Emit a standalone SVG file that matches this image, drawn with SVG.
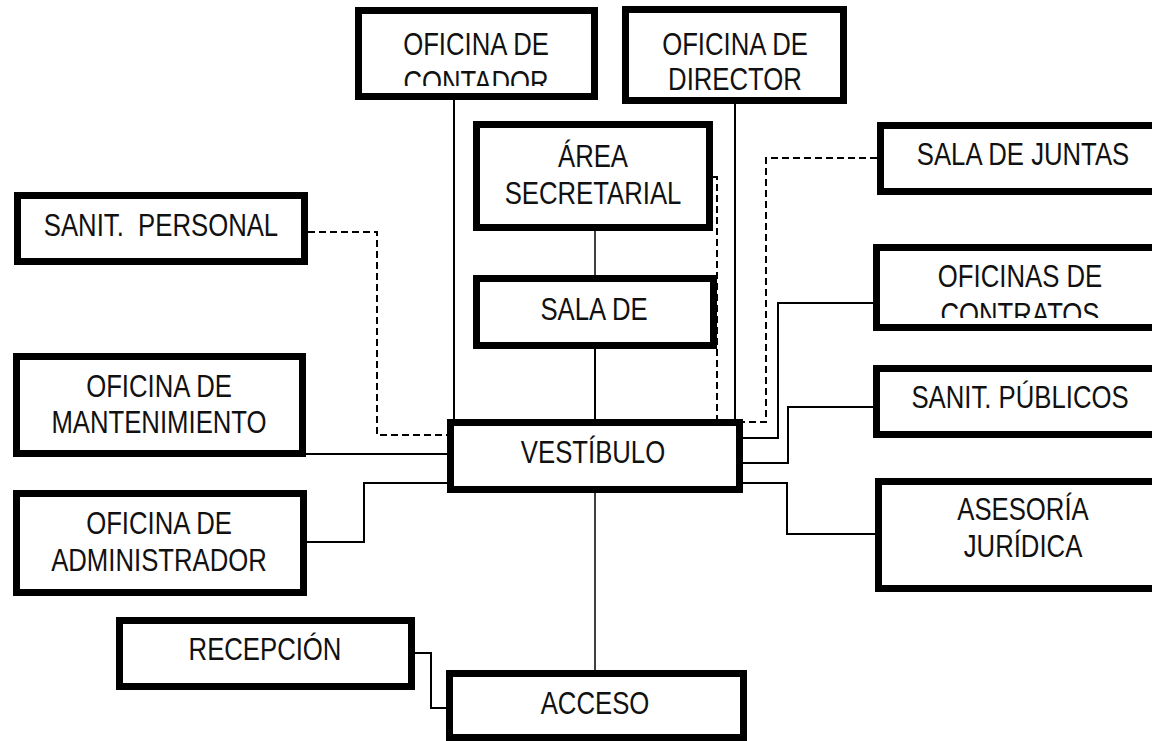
<svg xmlns="http://www.w3.org/2000/svg" width="1152" height="741" viewBox="0 0 1152 741">
<style>
.box{fill:#fff;stroke:#000;stroke-width:7}
.lbl{font-family:"Liberation Sans Narrow","Liberation Sans",Arial,sans-serif;font-size:31px;fill:#111;text-anchor:middle}
.ln{fill:none;stroke:#000;stroke-width:2}
.ds{fill:none;stroke:#000;stroke-width:2;stroke-dasharray:7 4}
</style>
<defs>
<clipPath id="clipCont"><rect x="355" y="0" width="245" height="86"/></clipPath>
<clipPath id="clipContr"><rect x="873" y="240" width="300" height="78"/></clipPath>
</defs>
<rect width="1152" height="741" fill="#fff"/>
<g id="connectors">
<line class="ln" x1="454" y1="100" x2="454" y2="419"/>
<line class="ln" x1="735" y1="104" x2="735" y2="419"/>
<line class="ln" x1="595" y1="231" x2="595" y2="275" style="stroke-width:1.5"/>
<line class="ln" x1="595" y1="349" x2="595" y2="419"/>
<line class="ln" x1="595" y1="493" x2="595" y2="670" style="stroke-width:1.5"/>
<polyline class="ds" points="713,177 717,177 717,419"/>
<polyline class="ds" points="877,158 766,158 766,422 743,422"/>
<polyline class="ds" points="308,232 377,232 377,435 447,435"/>
<polyline class="ln" points="306,454 447,454"/>
<polyline class="ln" points="307,542 364,542 364,483 447,483"/>
<polyline class="ln" points="415,653 431,653 431,708 446,708"/>
<polyline class="ln" points="873,303 778,303 778,438 743,438"/>
<polyline class="ln" points="873,407 788,407 788,463 743,463"/>
<polyline class="ln" points="743,483 787,483 787,534 875,534"/>
</g>
<g id="n-contador">
<rect class="box" x="358.5" y="10.5" width="236" height="86"/>
<text class="lbl" transform="matrix(0.83 0 0 1 476 0)" x="0" y="55">OFICINA DE</text>
<g clip-path="url(#clipCont)"><text class="lbl" transform="matrix(0.83 0 0 1 476 0)" x="0" y="93">CONTADOR</text></g>
</g>
<g id="n-director">
<rect class="box" x="625.5" y="9.5" width="218" height="91"/>
<text class="lbl" transform="matrix(0.83 0 0 1 735 0)" x="0" y="55">OFICINA DE</text>
<text class="lbl" transform="matrix(0.83 0 0 1 735 0)" x="0" y="90">DIRECTOR</text>
</g>
<g id="n-secretarial">
<rect class="box" x="476.5" y="124.5" width="233" height="103"/>
<text class="lbl" transform="matrix(0.83 0 0 1 593 0)" x="0" y="167">ÁREA</text>
<text class="lbl" transform="matrix(0.83 0 0 1 593 0)" x="0" y="204">SECRETARIAL</text>
</g>
<g id="n-sala">
<rect class="box" x="476.5" y="278.5" width="237" height="67"/>
<text class="lbl" transform="matrix(0.83 0 0 1 594 0)" x="0" y="320">SALA DE</text>
</g>
<g id="n-vestibulo">
<rect class="box" x="450.5" y="422.5" width="289" height="67"/>
<text class="lbl" transform="matrix(0.83 0 0 1 593 0)" x="0" y="463">VESTÍBULO</text>
</g>
<g id="n-acceso">
<rect class="box" x="449.5" y="673.5" width="294" height="64"/>
<text class="lbl" transform="matrix(0.83 0 0 1 595 0)" x="0" y="714">ACCESO</text>
</g>
<g id="n-juntas">
<rect class="box" x="880.5" y="125.5" width="290" height="66"/>
<text class="lbl" transform="matrix(0.83 0 0 1 1023 0)" x="0" y="165">SALA DE JUNTAS</text>
</g>
<g id="n-contratos">
<rect class="box" x="876.5" y="247.5" width="290" height="80"/>
<text class="lbl" transform="matrix(0.83 0 0 1 1020 0)" x="0" y="287">OFICINAS DE</text>
<g clip-path="url(#clipContr)"><text class="lbl" transform="matrix(0.83 0 0 1 1020 0)" x="0" y="325">CONTRATOS</text></g>
</g>
<g id="n-publicos">
<rect class="box" x="876.5" y="368.5" width="290" height="66"/>
<text class="lbl" transform="matrix(0.83 0 0 1 1020 0)" x="0" y="408">SANIT. PÚBLICOS</text>
</g>
<g id="n-juridica">
<rect class="box" x="878.5" y="481.5" width="290" height="107"/>
<text class="lbl" transform="matrix(0.83 0 0 1 1023 0)" x="0" y="520">ASESORÍA</text>
<text class="lbl" transform="matrix(0.83 0 0 1 1023 0)" x="0" y="557">JURÍDICA</text>
</g>
<g id="n-sanit-personal">
<rect class="box" x="17.5" y="195.5" width="287" height="66"/>
<text class="lbl" transform="matrix(0.83 0 0 1 161 0)" x="0" y="236" xml:space="preserve">SANIT.  PERSONAL</text>
</g>
<g id="n-mantenimiento">
<rect class="box" x="16.5" y="356.5" width="286" height="97"/>
<text class="lbl" transform="matrix(0.83 0 0 1 159 0)" x="0" y="397">OFICINA DE</text>
<text class="lbl" transform="matrix(0.83 0 0 1 159 0)" x="0" y="433">MANTENIMIENTO</text>
</g>
<g id="n-administrador">
<rect class="box" x="16.5" y="493.5" width="287" height="99"/>
<text class="lbl" transform="matrix(0.83 0 0 1 159 0)" x="0" y="534">OFICINA DE</text>
<text class="lbl" transform="matrix(0.83 0 0 1 159 0)" x="0" y="571">ADMINISTRADOR</text>
</g>
<g id="n-recepcion">
<rect class="box" x="119.5" y="620.5" width="292" height="66"/>
<text class="lbl" transform="matrix(0.83 0 0 1 265 0)" x="0" y="660">RECEPCIÓN</text>
</g>
</svg>
